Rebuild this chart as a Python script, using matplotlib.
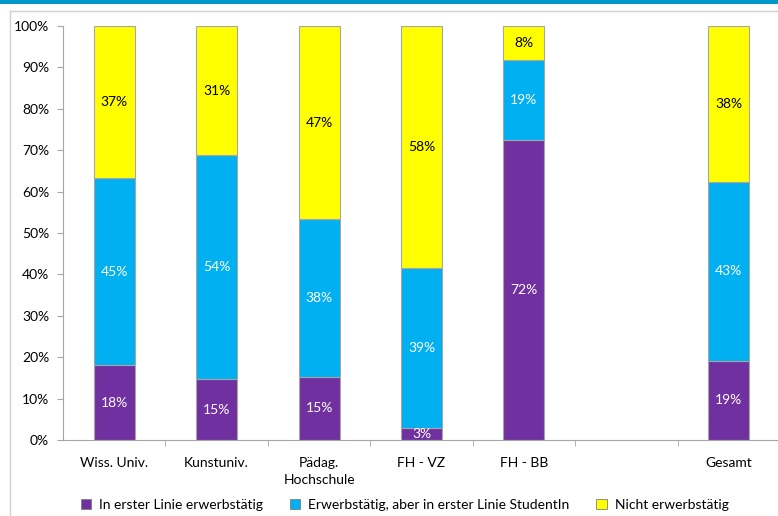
"""Stacked 100% bars: Erwerbstätigkeit nach Hochschulsektor."""

import matplotlib

matplotlib.use("Agg")
import matplotlib.pyplot as plt
import numpy as np
from matplotlib.patches import Patch, Rectangle
from matplotlib.lines import Line2D

categories = ["Wiss. Univ.", "Kunstuniv.", "Pädag.\nHochschule", "FH - VZ", "FH - BB", "", "Gesamt"]
series_names = [
    "In erster Linie erwerbstätig",
    "Erwerbstätig, aber in erster Linie StudentIn",
    "Nicht erwerbstätig",
]
# shares in percent, np.nan = empty slot
erster_linie = [18.1, 14.7, 15.3, 2.9, 72.4, np.nan, 19.1]
aber_student = [45.2, 54.1, 38.0, 38.7, 19.4, np.nan, 43.3]
nicht = [36.7, 31.2, 46.7, 58.4, 8.2, np.nan, 37.6]

colors = ["#7030A0", "#00B0F0", "#FFFF00"]
text_colors = ["white", "white", "black"]

plt.rcParams["font.family"] = ["Lato", "DejaVu Sans"]
fig = plt.figure(figsize=(7.78, 5.16), dpi=100)

# frame decoration
fig.add_artist(Rectangle((0, 1 - 4 / 516), 1, 4 / 516, transform=fig.transFigure,
                         color="#0098C8", lw=0))
fig.add_artist(Line2D([10 / 778, 1], [1 - 11 / 516] * 2, transform=fig.transFigure,
                      color="#D0D0D0", lw=1))
fig.add_artist(Line2D([10 / 778] * 2, [0, 1 - 11 / 516], transform=fig.transFigure,
                      color="#D0D0D0", lw=1))

ax = fig.add_axes([63 / 778, 76 / 516, 717 / 778, 414 / 516])
x = np.arange(len(categories))
bottom = np.zeros(len(categories))
for vals, col, tcol in zip([erster_linie, aber_student, nicht], colors, text_colors):
    vals = np.array(vals)
    ax.bar(x, vals, width=0.4, bottom=bottom, color=col, edgecolor="#A6A6A6", linewidth=0.8)
    for xi, v, b in zip(x, vals, bottom):
        if np.isnan(v):
            continue
        ax.text(xi, b + v / 2, f"{v:.0f}%", ha="center", va="center", color=tcol, fontsize=10)
    bottom = bottom + np.nan_to_num(vals)

ax.set_xlim(-0.5, len(categories) - 0.5)
ax.set_ylim(0, 100)
ax.set_yticks(np.arange(0, 101, 10))
ax.set_yticklabels([f"{t}%" for t in range(0, 101, 10)], fontsize=10)
ax.set_xticks(x)
ax.set_xticklabels(categories, fontsize=10, va="top", linespacing=1.55)
ax.set_xticks(np.arange(0.5, len(categories) - 0.5), minor=True)
ax.tick_params(axis="x", which="major", length=0, pad=12)
ax.tick_params(axis="x", which="minor", length=4, color="#A6A6A6")
ax.tick_params(axis="y", length=4, color="#A6A6A6", pad=6)
for side in ["top", "right"]:
    ax.spines[side].set_visible(False)
for side in ["left", "bottom"]:
    ax.spines[side].set_color("#A6A6A6")

handles = [Patch(facecolor=c, edgecolor="#7F7F7F", linewidth=0.6) for c in colors]
fig.legend(handles, series_names, loc="center left", bbox_to_anchor=(75 / 778, 11 / 516),
           ncol=3, frameon=False, fontsize=10, handlelength=0.75, handleheight=0.75,
           handletextpad=0.6, columnspacing=1.9, borderaxespad=0)

fig.savefig("out.png", dpi=100)
